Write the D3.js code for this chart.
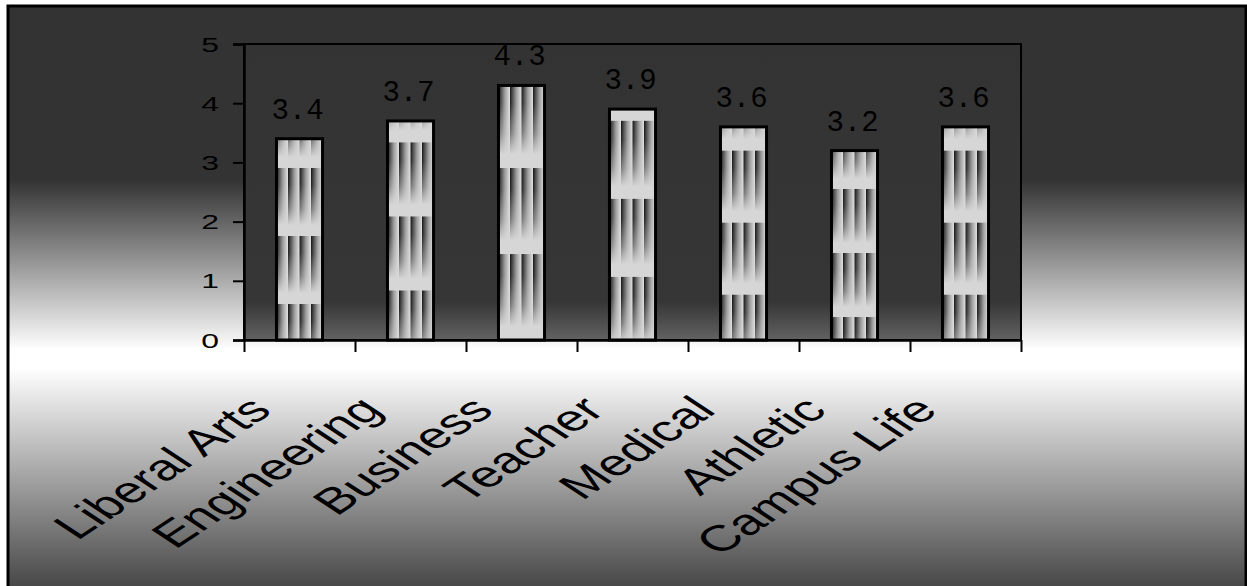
<!DOCTYPE html>
<html><head><meta charset="utf-8">
<script src="https://cdn.jsdelivr.net/npm/d3@7"></script>
<style>body{margin:0;background:#fff}svg{display:block}</style>
</head><body>
<svg id="c" width="1247" height="586"></svg>
<script>
const categories = ["Liberal Arts","Engineering","Business","Teacher","Medical","Athletic","Campus Life"];
const values = [3.4, 3.7, 4.3, 3.9, 3.6, 3.2, 3.6];
const valueLabels = ["3.4","3.7","4.3","3.9","3.6","3.2","3.6"];
const yTicks = [0, 1, 2, 3, 4, 5];
// texture phase per bar (fraction of texture period from bar top to first band edge)
const texturePhase = [0.43, 0.29, 0.96, 0.15, 0.33, 0.6, 0.33];

const svg = d3.select("#c");
const W = 1247, H = 586;
const plot = {x0: 244, x1: 1021, y0: 44, y1: 340};
const S = 1.52; // horizontal stretch of axis text

const defs = svg.append("defs");
const bg = defs.append("linearGradient").attr("id","bg").attr("gradientUnits","userSpaceOnUse")
  .attr("x1",0).attr("y1",0).attr("x2",0).attr("y2",H);
[[0,"#333"],[180/H,"#333"],[350/H,"#fff"],[368/H,"#fff"],[1,"#484848"]].forEach(s=>
  bg.append("stop").attr("offset",s[0]).attr("stop-color",s[1]));
const pg = defs.append("linearGradient").attr("id","pg").attr("gradientUnits","userSpaceOnUse")
  .attr("x1",0).attr("y1",plot.y0).attr("x2",0).attr("y2",plot.y1);
[[0,"#333"],[0.87,"#363636"],[1,"#626262"]].forEach(s=>
  pg.append("stop").attr("offset",s[0]).attr("stop-color",s[1]));
const sh = defs.append("linearGradient").attr("id","sh").attr("x1",0).attr("y1",0).attr("x2",1).attr("y2",0);
[[0,"#111"],[0.15,"#3a3a3a"],[0.55,"#9a9a9a"],[1,"#e2e2e2"]].forEach(s=>
  sh.append("stop").attr("offset",s[0]).attr("stop-color",s[1]));
const fv = defs.append("linearGradient").attr("id","fv").attr("x1",0).attr("y1",0).attr("x2",0).attr("y2",1);
[[0,0],[0.25,0.06],[0.6,0.5],[0.84,1],[1,1]].forEach(s=>
  fv.append("stop").attr("offset",s[0]).attr("stop-color","#d6d6d6").attr("stop-opacity",s[1]));

svg.append("rect").attr("x",8).attr("y",6).attr("width",1238).attr("height",H)
  .attr("fill","url(#bg)").attr("stroke","#000").attr("stroke-width",3);

const x = d3.scaleBand().domain(categories).range([plot.x0, plot.x1]).padding(0);
const y = d3.scaleLinear().domain([0,5]).range([plot.y1, plot.y0]);
const barW = x.bandwidth()*0.415;

svg.append("rect").attr("x",plot.x0).attr("y",plot.y0)
  .attr("width",plot.x1-plot.x0).attr("height",plot.y1-plot.y0)
  .attr("fill","url(#pg)").attr("stroke","#000").attr("stroke-width",2);

categories.forEach((c,i)=>{
  const bx = x(c) + (x.bandwidth()-barW)/2;
  const top = y(values[i]);
  const h = y(0) - top;
  const P = h*0.338;
  const sw = barW/4;
  const p = defs.append("pattern").attr("id","tex"+i).attr("patternUnits","userSpaceOnUse")
    .attr("x",bx).attr("y",top + texturePhase[i]*P - P).attr("width",sw).attr("height",P);
  p.append("rect").attr("width",sw).attr("height",P).attr("fill","url(#sh)");
  p.append("rect").attr("width",sw).attr("height",P).attr("fill","url(#fv)");
});

svg.append("g").selectAll("rect").data(categories).join("rect")
  .attr("x",d=>x(d)+(x.bandwidth()-barW)/2)
  .attr("y",(d,i)=>y(values[i]))
  .attr("width",barW)
  .attr("height",(d,i)=>y(0)-y(values[i]))
  .attr("fill",(d,i)=>`url(#tex${i})`)
  .attr("stroke","#000").attr("stroke-width",3);

svg.append("g").selectAll("text").data(categories).join("text")
  .attr("x",d=>x(d)+x.bandwidth()/2-2)
  .attr("y",(d,i)=>y(values[i])-20)
  .attr("text-anchor","middle")
  .attr("font-family","'Liberation Mono', 'Courier New', monospace")
  .attr("font-size",29).attr("fill","#000")
  .text((d,i)=>valueLabels[i]);

const ya = svg.append("g").attr("transform",`translate(${plot.x0},0)`)
  .call(d3.axisLeft(y).tickValues(yTicks).tickSize(11).tickFormat(""));
ya.selectAll("line").attr("stroke","#000").attr("stroke-width",2);
ya.select(".domain").attr("stroke","#000").attr("stroke-width",2.5);
svg.append("g").selectAll("text").data(yTicks).join("text")
  .attr("transform",d=>`translate(219,${y(d)+7.5}) scale(${S},1)`)
  .attr("text-anchor","end")
  .attr("font-family","'Liberation Sans', Arial, sans-serif")
  .attr("font-size",21).attr("fill","#000")
  .text(d=>d);

const xe = d3.scaleLinear().domain([0,categories.length]).range([plot.x0, plot.x1]);
const xa = svg.append("g").attr("transform",`translate(0,${plot.y1})`)
  .call(d3.axisBottom(xe).tickValues(d3.range(categories.length+1)).tickSize(12).tickFormat("").tickSizeOuter(0));
xa.selectAll("line").attr("stroke","#000").attr("stroke-width",2);
xa.select(".domain").attr("stroke","#000").attr("stroke-width",2.5);

svg.append("g").selectAll("text").data(categories).join("text")
  .attr("transform",d=>`translate(${x(d)+x.bandwidth()/2-26},412) scale(${S},1) rotate(-45)`)
  .attr("text-anchor","end")
  .attr("font-family","'Liberation Sans', Arial, sans-serif")
  .attr("font-size",36.5).attr("fill","#000")
  .text(d=>d);
</script>
</body></html>
